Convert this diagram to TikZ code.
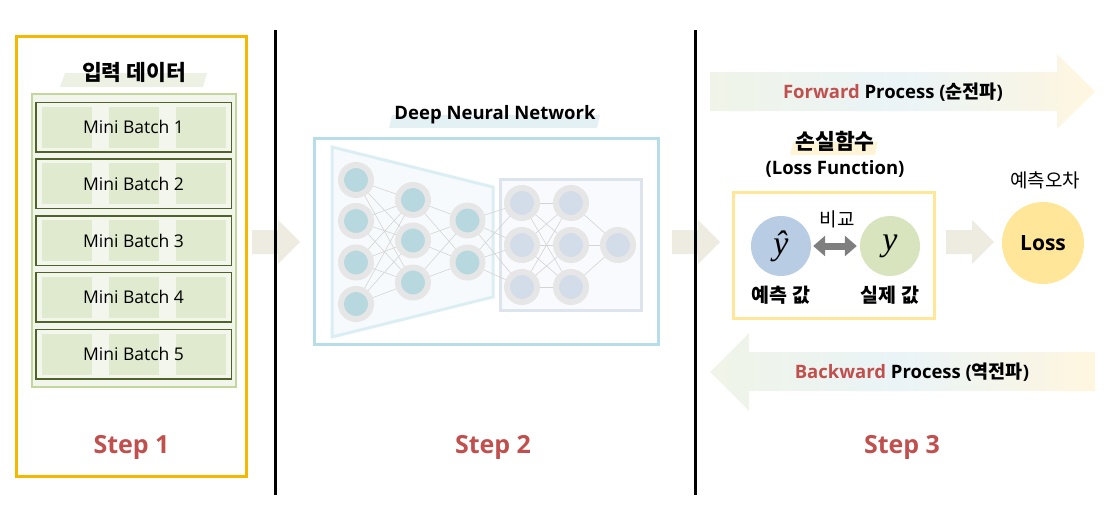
\documentclass[tikz,border=0pt]{standalone}
\usepackage{fontspec}
\setmainfont{Open Sans}
\newfontfamily\kr{Noto Sans CJK KR}
\newfontfamily\varfont{Liberation Serif}
\usetikzlibrary{positioning,arrows.meta}

\definecolor{stepred}{HTML}{C0504D}
\definecolor{stepyellow}{HTML}{F4B800}
\definecolor{batchline}{HTML}{4F6228}
\definecolor{batchfill}{HTML}{F3F6ED}
\definecolor{batchcell}{HTML}{E0EACE}
\definecolor{groupline}{HTML}{C3D69B}
\definecolor{groupfill}{HTML}{F2F5EB}
\definecolor{titlegreen}{HTML}{EDF1E4}
\definecolor{titleblue}{HTML}{E3F0F4}
\definecolor{titleyellow}{HTML}{FFF4D6}
\definecolor{netline}{HTML}{B7DDE8}
\definecolor{trapline}{HTML}{DAEEF3}
\definecolor{trapfill}{HTML}{F7FAFC}
\definecolor{outrect}{HTML}{DCE4EE}
\definecolor{outfill}{HTML}{F8FAFD}
\definecolor{ring}{HTML}{E6E6E6}
\definecolor{tealcore}{HTML}{B7D8DF}
\definecolor{bluecore}{HTML}{D3DDE9}
\definecolor{synapse}{HTML}{D4D4D4}
\definecolor{chevron}{HTML}{EEECE1}
\definecolor{fwgreen}{HTML}{F0F4E8}
\definecolor{fwblue}{HTML}{EAF4F7}
\definecolor{fwyellow}{HTML}{FFF6DF}
\definecolor{predblue}{HTML}{B8CCE4}
\definecolor{truegreen}{HTML}{D7E4BD}
\definecolor{lossyellow}{HTML}{FFE699}
\definecolor{cmpgray}{HTML}{7F7F7F}

\tikzstyle{batch}=[draw=batchline, line width=1.5pt, fill=batchfill, minimum width=195.5pt, minimum height=49.5pt, inner sep=0pt, font=\fontsize{17.5}{20}\selectfont,
    path picture={\foreach \dx in {-67,0,67} \fill[batchcell] ([xshift=\dx pt]path picture bounding box.center) ++(-25,-20.5) rectangle ++(50,41);}]
\tikzstyle{neuron}=[circle, draw=ring, line width=6pt, fill=tealcore, minimum size=30pt, inner sep=0pt]
\tikzstyle{neuronb}=[neuron, fill=bluecore]
\tikzstyle{wire}=[draw=synapse, line width=0.6pt]
\tikzstyle{steplabel}=[text=stepred, font=\bfseries\fontsize{25}{30}\selectfont]
\tikzstyle{title}=[font=\bfseries\fontsize{18.5}{22}\selectfont]
\tikzstyle{krtitle}=[font=\kr\bfseries\fontsize{21.5}{25}\selectfont]
\tikzstyle{krlabel}=[font=\kr\bfseries\fontsize{19.5}{23}\selectfont]
\tikzstyle{krnote}=[font=\kr\fontsize{19}{22}\selectfont]
\tikzstyle{value}=[circle, minimum size=60pt, inner sep=0pt, font=\varfont\itshape\fontsize{34}{36}\selectfont]
\tikzstyle{divider}=[line width=3pt]

\begin{document}
\begin{tikzpicture}[x=1pt,y=-1pt]
    \useasboundingbox (0,0) rectangle (1119,506);

    % arrows between the steps
    \foreach \x in {252,672,946}
        \fill[chevron] (\x,230) -- (\x+26,230) -- (\x+26,220) -- (\x+48,242) -- (\x+26,264) -- (\x+26,254) -- (\x,254) -- cycle;

    \draw[divider] (275,30) -- (275,495);
    \draw[divider] (695,30) -- (695,495);

    % step 1
    \node[draw=stepyellow, line width=3pt, minimum width=230pt, minimum height=440pt] (box1) at (131.5,256.5) {};
    \fill[titlegreen] (65,73) -- (207,73) -- (203,87) -- (60,87) -- cycle;
    \node[krtitle] (data) at (134,72) {입력 데이터};
    \node[fill=groupfill, draw=groupline, line width=2pt, minimum width=204pt, minimum height=293pt] (group) at (134,240.5) {};
    \begin{scope}[every node/.style={batch}]
        \node (mb1) at (133.5,127) {Mini Batch 1};
        \node[below=5.75pt of mb1] (mb2) {Mini Batch 2};
        \node[below=5.75pt of mb2] (mb3) {Mini Batch 3};
        \node[below=5.75pt of mb3] (mb4) {Mini Batch 4};
        \node[below=5.75pt of mb4] (mb5) {Mini Batch 5};
    \end{scope}
    \node[steplabel] (st1) at (131.5,447) {Step 1};

    % step 2
    \fill[titleblue] (392,115) -- (600,115) -- (597,128) -- (389,128) -- cycle;
    \node[title] (dnn) at (495,115) {Deep Neural Network};
    \node[draw=netline, line width=3pt, minimum width=344pt, minimum height=206pt] (net) at (486.5,241.5) {};
    \filldraw[fill=trapfill, draw=trapline, line width=3pt] (332,147) -- (493,187) -- (493,297) -- (332,337) -- cycle;
    \node[fill=outfill, draw=outrect, line width=3pt, minimum width=141pt, minimum height=131pt] (outer) at (571,245) {};

    \begin{scope}[every node/.style={neuron}]
        \node (a1) at (356,180) {};
        \node (a2) at (356,221) {};
        \node (a3) at (356,262.5) {};
        \node (a4) at (356,304) {};
        \node (b1) at (413,200) {};
        \node (b2) at (413,240.5) {};
        \node (b3) at (413,282.5) {};
        \node (c1) at (467.5,220.5) {};
        \node (c2) at (467.5,262.5) {};
    \end{scope}
    \begin{scope}[every node/.style={neuronb}]
        \node (d1) at (522,203) {};
        \node (d2) at (522,245) {};
        \node (d3) at (522,287) {};
        \node (e1) at (571,203) {};
        \node (e2) at (571,245) {};
        \node (e3) at (571,287) {};
        \node (f1) at (618,245) {};
    \end{scope}

    \begin{scope}[every path/.style={wire}]
        \foreach \i in {1,...,4} \foreach \j in {1,...,3} \path (a\i) -- (b\j);
        \foreach \i in {1,...,3} \foreach \j in {1,2} \path (b\i) -- (c\j);
        \foreach \i in {1,2} \foreach \j in {1,...,3} \path (c\i) -- (d\j);
        \foreach \i in {1,...,3} \foreach \j in {1,...,3} \path (d\i) -- (e\j);
        \foreach \i in {1,...,3} \path (e\i) -- (f1);
    \end{scope}
    \node[steplabel] (st2) at (493,447) {Step 2};

    % step 3
    \shade[left color=fwgreen, right color=fwyellow, middle color=fwblue] (710,72) -- (1057,72) -- (1057,54) -- (1095,91.5) -- (1057,129) -- (1057,111) -- (710,111) -- cycle;
    \node[title] (fwd) at (893,92) {\textcolor{stepred}{Forward} Process ({\kr 순전파})};

    \fill[titleyellow] (793,142) -- (878,142) -- (875,155) -- (790,155) -- cycle;
    \node[krtitle] (lossfn) at (835,141) {손실함수};
    \node[title] (lossen) at (835,169) {(Loss Function)};
    \node[draw=lossyellow, line width=3pt, minimum width=201pt, minimum height=126pt] (lbox) at (834,255.5) {};
    \node[value, fill=predblue] (yhat) at (781,246) {ŷ};
    \node[value, fill=truegreen] (ytrue) at (890,246) {y};
    \draw[cmpgray, line width=7pt, {Triangle[width=20pt,length=12pt]}-{Triangle[width=20pt,length=12pt]}, shorten <=2pt, shorten >=3pt] (yhat) -- (ytrue);
    \node[krnote] (cmp) at (837,219) {비교};
    \node[krlabel] (pred) at (781,295) {예측 값};
    \node[krlabel] (real) at (890,295) {실제 값};

    \node[krnote] (err) at (1045,180) {예측오차};
    \node[circle, fill=lossyellow, minimum size=82pt, font=\bfseries\fontsize{21}{24}\selectfont] (loss) at (1043,243) {Loss};

    \shade[left color=fwgreen, right color=fwyellow, middle color=fwblue] (710,372) -- (749,333) -- (749,352) -- (1095,352) -- (1095,391) -- (749,391) -- (749,411) -- cycle;
    \node[title] (bwd) at (912,372) {\textcolor{stepred}{Backward} Process ({\kr 역전파})};
    \node[steplabel] (st3) at (902,447) {Step 3};
\end{tikzpicture}
\end{document}
